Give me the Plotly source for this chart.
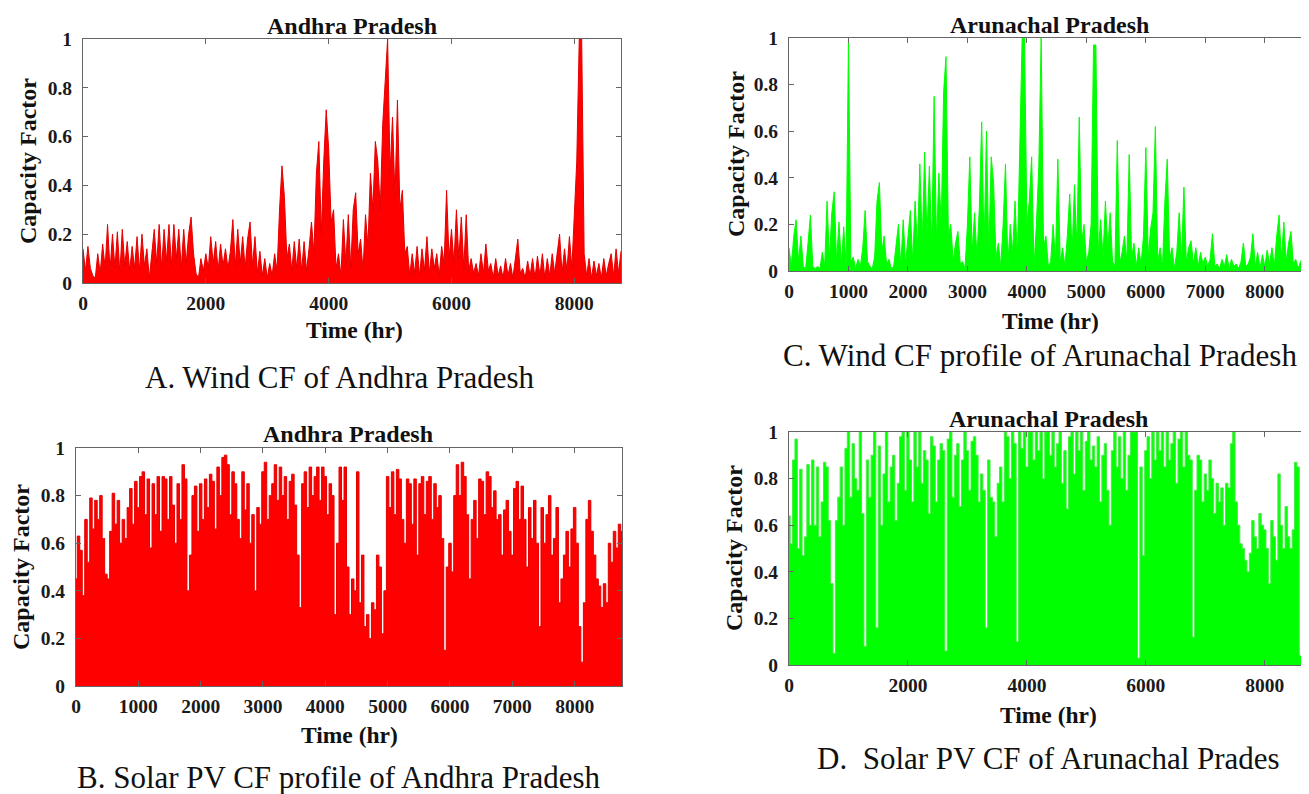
import numpy as np
import plotly.graph_objects as go

# ---------------- data (capacity factor) ----------------
STEP = 40  # hours between samples

# A. Wind CF, Andhra Pradesh (hour 0 .. 8760, every 40 h)
ap_wind = [
    0.14, 0.05, 0.15, 0.06, 0.03, 0.02, 0.12, 0.04, 0.16, 0.06,
    0.24, 0.05, 0.20, 0.06, 0.21, 0.04, 0.22, 0.07, 0.17, 0.05,
    0.15, 0.06, 0.19, 0.05, 0.20, 0.07, 0.14, 0.02, 0.12, 0.22,
    0.08, 0.24, 0.06, 0.22, 0.09, 0.24, 0.07, 0.24, 0.10, 0.22,
    0.06, 0.22, 0.08, 0.20, 0.27, 0.12, 0.04, 0.02, 0.10, 0.05,
    0.12, 0.06, 0.19, 0.08, 0.17, 0.05, 0.16, 0.07, 0.14, 0.06,
    0.13, 0.26, 0.07, 0.22, 0.08, 0.19, 0.06, 0.18, 0.25, 0.07,
    0.19, 0.04, 0.13, 0.03, 0.10, 0.02, 0.08, 0.03, 0.12, 0.05,
    0.30, 0.48, 0.35, 0.10, 0.16, 0.05, 0.17, 0.06, 0.18, 0.05,
    0.17, 0.05, 0.14, 0.25, 0.12, 0.45, 0.58, 0.20, 0.50, 0.71,
    0.55, 0.25, 0.30, 0.06, 0.12, 0.03, 0.26, 0.08, 0.28, 0.06,
    0.30, 0.37, 0.12, 0.18, 0.05, 0.28, 0.15, 0.45, 0.30, 0.58,
    0.50, 0.30, 0.65, 0.82, 1.00, 0.45, 0.68, 0.35, 0.75, 0.30,
    0.38, 0.12, 0.15, 0.03, 0.12, 0.04, 0.15, 0.03, 0.14, 0.05,
    0.19, 0.04, 0.14, 0.06, 0.12, 0.03, 0.15, 0.08, 0.38, 0.10,
    0.22, 0.08, 0.30, 0.10, 0.27, 0.06, 0.28, 0.05, 0.10, 0.04,
    0.08, 0.03, 0.12, 0.04, 0.16, 0.05, 0.08, 0.02, 0.10, 0.03,
    0.07, 0.02, 0.10, 0.03, 0.08, 0.02, 0.09, 0.18, 0.04, 0.06,
    0.02, 0.09, 0.03, 0.10, 0.02, 0.11, 0.03, 0.12, 0.02, 0.10,
    0.03, 0.12, 0.04, 0.13, 0.20, 0.04, 0.14, 0.05, 0.19, 0.06,
    0.30, 0.50, 1.00, 1.00, 0.12, 0.03, 0.10, 0.02, 0.09, 0.03,
    0.08, 0.02, 0.10, 0.03, 0.08, 0.12, 0.03, 0.14, 0.04, 0.13,
]

# C. Wind CF, Arunachal Pradesh
ar_wind = [
    0.10, 0.02, 0.15, 0.22, 0.04, 0.15, 0.02, 0.01, 0.12, 0.24,
    0.02, 0.01, 0.02, 0.01, 0.08, 0.02, 0.30, 0.05, 0.25, 0.34,
    0.04, 0.21, 0.03, 0.19, 0.02, 1.00, 0.04, 0.06, 0.01, 0.05,
    0.02, 0.10, 0.26, 0.04, 0.02, 0.01, 0.06, 0.30, 0.38, 0.08,
    0.15, 0.03, 0.05, 0.01, 0.02, 0.10, 0.20, 0.02, 0.22, 0.03,
    0.14, 0.26, 0.04, 0.30, 0.10, 0.46, 0.12, 0.51, 0.15, 0.45,
    0.10, 0.75, 0.12, 0.42, 0.20, 0.77, 0.92, 0.15, 0.20, 0.04,
    0.12, 0.17, 0.03, 0.04, 0.01, 0.20, 0.49, 0.08, 0.25, 0.06,
    0.27, 0.64, 0.10, 0.60, 0.08, 0.49, 0.38, 0.06, 0.12, 0.02,
    0.20, 0.46, 0.03, 0.20, 0.08, 0.30, 0.06, 0.48, 1.00, 1.00,
    0.20, 0.30, 0.49, 0.02, 0.20, 0.45, 1.00, 0.10, 0.15, 0.02,
    0.04, 0.20, 0.05, 0.48, 0.04, 0.10, 0.02, 0.15, 0.33, 0.08,
    0.37, 0.10, 0.66, 0.12, 0.20, 0.04, 0.08, 0.20, 0.97, 0.97,
    0.08, 0.22, 0.06, 0.30, 0.10, 0.25, 0.04, 0.02, 0.56, 0.03,
    0.08, 0.15, 0.04, 0.50, 0.06, 0.12, 0.02, 0.10, 0.03, 0.15,
    0.53, 0.06, 0.18, 0.25, 0.62, 0.04, 0.10, 0.02, 0.30, 0.48,
    0.05, 0.10, 0.01, 0.08, 0.25, 0.05, 0.36, 0.04, 0.10, 0.13,
    0.03, 0.10, 0.02, 0.08, 0.03, 0.06, 0.02, 0.05, 0.16, 0.02,
    0.03, 0.01, 0.05, 0.02, 0.07, 0.01, 0.05, 0.02, 0.03, 0.01,
    0.04, 0.12, 0.02, 0.03, 0.06, 0.16, 0.02, 0.08, 0.01, 0.07,
    0.02, 0.09, 0.03, 0.10, 0.02, 0.15, 0.24, 0.05, 0.21, 0.04,
    0.12, 0.17, 0.03, 0.05, 0.01, 0.04, 0.06, 0.01, 0.08, 0.06,
]

# B. Solar PV CF, Andhra Pradesh (daily-peak envelope, every 40 h)
ap_solar = [
    0.45, 0.63, 0.57, 0.38, 0.70, 0.52, 0.79, 0.66, 0.78, 0.70,
    0.80, 0.62, 0.47, 0.45, 0.65, 0.81, 0.68, 0.78, 0.60, 0.70,
    0.62, 0.75, 0.83, 0.68, 0.86, 0.75, 0.88, 0.90, 0.72, 0.87,
    0.58, 0.85, 0.72, 0.88, 0.65, 0.88, 0.87, 0.70, 0.88, 0.76,
    0.60, 0.85, 0.70, 0.93, 0.87, 0.40, 0.55, 0.80, 0.84, 0.65,
    0.85, 0.70, 0.87, 0.75, 0.89, 0.86, 0.66, 0.92, 0.80, 0.96,
    0.97, 0.93, 0.72, 0.90, 0.85, 0.70, 0.62, 0.90, 0.74, 0.85,
    0.60, 0.72, 0.40, 0.75, 0.68, 0.90, 0.94, 0.70, 0.80, 0.85,
    0.93, 0.78, 0.92, 0.80, 0.88, 0.70, 0.86, 0.89, 0.76, 0.55,
    0.33, 0.85, 0.90, 0.75, 0.92, 0.80, 0.88, 0.92, 0.78, 0.92,
    0.88, 0.72, 0.85, 0.80, 0.30, 0.60, 0.92, 0.78, 0.92, 0.50,
    0.30, 0.45, 0.40, 0.90, 0.35, 0.55, 0.25, 0.30, 0.20, 0.35,
    0.32, 0.55, 0.50, 0.22, 0.40, 0.88, 0.75, 0.90, 0.72, 0.91,
    0.87, 0.70, 0.60, 0.87, 0.85, 0.68, 0.87, 0.55, 0.85, 0.88,
    0.72, 0.86, 0.88, 0.70, 0.85, 0.75, 0.80, 0.62, 0.15, 0.50,
    0.60, 0.48, 0.80, 0.93, 0.80, 0.94, 0.88, 0.72, 0.45, 0.70,
    0.78, 0.62, 0.87, 0.86, 0.72, 0.90, 0.88, 0.75, 0.82, 0.70,
    0.72, 0.55, 0.74, 0.78, 0.65, 0.55, 0.83, 0.86, 0.70, 0.84,
    0.70, 0.50, 0.75, 0.62, 0.78, 0.60, 0.25, 0.75, 0.60, 0.72,
    0.80, 0.55, 0.62, 0.75, 0.35, 0.45, 0.55, 0.65, 0.50, 0.66,
    0.75, 0.60, 0.25, 0.10, 0.35, 0.70, 0.78, 0.65, 0.55, 0.45,
    0.42, 0.33, 0.43, 0.35, 0.60, 0.52, 0.65, 0.58, 0.68, 0.65,
]

# D. Solar PV CF, Arunachal Pradesh
ar_solar = [
    0.64, 0.52, 0.88, 0.97, 0.50, 0.84, 0.47, 0.55, 0.86, 0.60,
    0.88, 0.60, 0.85, 0.55, 0.70, 0.87, 0.85, 0.62, 0.35, 0.05,
    0.62, 0.72, 0.85, 0.60, 0.93, 1.00, 0.72, 0.95, 0.80, 0.75,
    1.00, 0.65, 0.08, 0.88, 0.72, 0.90, 1.00, 0.16, 0.94, 0.60,
    0.82, 1.00, 0.70, 0.85, 0.90, 0.62, 0.78, 0.98, 1.00, 0.75,
    1.00, 0.88, 0.70, 1.00, 0.85, 1.00, 0.78, 0.92, 0.88, 0.65,
    0.98, 0.94, 0.70, 0.88, 0.95, 0.92, 0.06, 0.97, 1.00, 0.72,
    0.90, 0.95, 0.68, 0.88, 1.00, 0.92, 0.75, 0.96, 0.98, 0.90,
    0.70, 0.82, 0.75, 0.16, 0.88, 0.72, 0.70, 0.55, 0.78, 0.85,
    0.70, 1.00, 0.98, 0.80, 1.00, 0.95, 0.10, 1.00, 0.93, 1.00,
    0.85, 1.00, 1.00, 0.88, 1.00, 0.92, 1.00, 0.80, 1.00, 1.00,
    0.90, 1.00, 0.85, 0.95, 1.00, 0.78, 0.92, 0.67, 0.98, 1.00,
    0.82, 1.00, 0.92, 1.00, 0.75, 0.96, 1.00, 0.88, 0.94, 0.85,
    0.98, 0.70, 0.90, 0.95, 0.75, 0.60, 0.92, 1.00, 0.85, 0.98,
    0.80, 1.00, 0.75, 0.90, 1.00, 1.00, 1.00, 0.03, 0.85, 0.47,
    0.92, 0.98, 0.80, 1.00, 0.88, 1.00, 0.92, 1.00, 0.85, 1.00,
    0.88, 0.95, 1.00, 0.78, 0.97, 1.00, 0.85, 1.00, 0.90, 0.88,
    0.12, 0.75, 0.90, 0.88, 0.70, 0.82, 0.75, 0.88, 0.80, 0.65,
    0.78, 0.70, 0.76, 0.60, 0.78, 0.76, 0.95, 1.00, 0.70, 0.60,
    0.52, 0.50, 0.45, 0.40, 0.48, 0.62, 0.55, 0.50, 0.65, 0.60,
    0.58, 0.50, 0.35, 0.62, 0.55, 0.45, 0.82, 0.60, 0.50, 0.68,
    0.55, 0.50, 0.58, 0.87, 0.85, 0.04, 0.45, 0.52, 0.62, 0.65,
]

ticks_2000 = [0, 2000, 4000, 6000, 8000]
ticks_1000 = [0, 1000, 2000, 3000, 4000, 5000, 6000, 7000, 8000]
y_ticks = [0, 0.2, 0.4, 0.6, 0.8, 1]

titles = ["Andhra Pradesh", "Arunachal Pradesh", "Andhra Pradesh", "Arunachal Pradesh"]
captions = ["A. Wind CF of Andhra Pradesh",
            "C. Wind CF profile of Arunachal Pradesh",
            "B. Solar PV CF profile of Andhra Pradesh",
            "D.  Solar PV CF of Arunachal Prades"]

# ---------------- figure ----------------
W, H = 1309, 794
OFF = 8          # the page places the plot 8 px in from the top-left corner
RED = "rgb(255,0,0)"
GREEN = "rgb(0,255,0)"
FONT = "Liberation Serif, Times New Roman, serif"


def px(x):
    return (x - OFF) / W


def py(y):
    return 1 - (y - OFF) / H


def hours(vals):
    return np.arange(len(vals)) * STEP


fig = go.Figure()
series = [
    # values, x axis, y axis, fill colour, line colour, line shape
    (ap_wind, "x", "y", RED, "rgb(228,0,0)", "linear"),
    (ar_wind, "x2", "y2", GREEN, GREEN, "linear"),
    (ap_solar, "x3", "y3", RED, "rgb(228,0,0)", "hvh"),
    (ar_solar, "x4", "y4", GREEN, "rgb(70,238,70)", "hvh"),
]
for vals, xa, ya, fillc, linec, shape in series:
    fig.add_trace(go.Scatter(x=hours(vals), y=vals, mode="lines",
                             line=dict(color=linec, width=1, shape=shape),
                             fill="tozeroy", fillcolor=fillc, xaxis=xa, yaxis=ya))

panels = {
    # name: (left, right, top, bottom, xticks) in page pixels
    "1": (83, 621, 39, 283, ticks_2000),
    "2": (789, 1310, 38, 271, ticks_1000),
    "3": (76, 622, 448, 686, ticks_1000),
    "4": (789, 1310, 432, 665, ticks_2000),
}

axis_common = dict(showline=True, mirror="ticks", linecolor="#666666", linewidth=1,
                   ticks="inside", ticklen=5, tickcolor="#666666", tickwidth=1,
                   showgrid=False, zeroline=False, fixedrange=True, automargin=False,
                   tickfont=dict(family=FONT, size=19.5, color="#1a1a1a", weight="bold"))

layout_axes = {}
for k, (l, r, t, b, xt) in panels.items():
    xn = "xaxis" if k == "1" else f"xaxis{k}"
    yn = "yaxis" if k == "1" else f"yaxis{k}"
    ya = "y" if k == "1" else f"y{k}"
    xa = "x" if k == "1" else f"x{k}"
    layout_axes[xn] = dict(axis_common, domain=[px(l), px(r)], range=[0, 8760], anchor=ya,
                           tickmode="array", tickvals=xt, ticklabelstandoff=3)
    layout_axes[yn] = dict(axis_common, domain=[py(b), py(t)], range=[0, 1], anchor=xa,
                           tickmode="array", tickvals=y_ticks, ticklabelstandoff=6)

annotations = []


def ann(text, cx, cy, size, bold=True, angle=0):
    annotations.append(dict(text=text, x=px(cx), y=py(cy), xref="paper", yref="paper",
                            xanchor="center", yanchor="middle", showarrow=False, textangle=angle,
                            font=dict(family=FONT, size=size, color="#111",
                                      weight="bold" if bold else "normal")))


# panel titles
ann(titles[0], 352, 26, 24)
ann(titles[1], 1049, 25, 24)
ann(titles[2], 348, 434, 24)
ann(titles[3], 1048, 419, 24)
# y-axis titles
ann("Capacity Factor", 28, 161, 24, angle=-90)
ann("Capacity Factor", 736, 154, 24, angle=-90)
ann("Capacity Factor", 21, 567, 24, angle=-90)
ann("Capacity Factor", 734, 548, 24, angle=-90)
# x-axis titles
ann("Time (hr)", 354, 330, 23.5)
ann("Time (hr)", 1050, 321, 23.5)
ann("Time (hr)", 349, 735, 23.5)
ann("Time (hr)", 1048, 715, 23.5)
# captions
ann(captions[0], 340, 377, 31, bold=False)
ann(captions[1], 1040, 356, 31, bold=False)
ann(captions[2], 338, 777, 31, bold=False)
ann(captions[3], 1048, 758, 31, bold=False)

fig.update_layout(width=W, height=H, margin=dict(l=0, r=0, t=0, b=0, pad=0),
                  paper_bgcolor="white", plot_bgcolor="white", showlegend=False,
                  hovermode=False, annotations=annotations, **layout_axes)

fig.write_html("out.html")
